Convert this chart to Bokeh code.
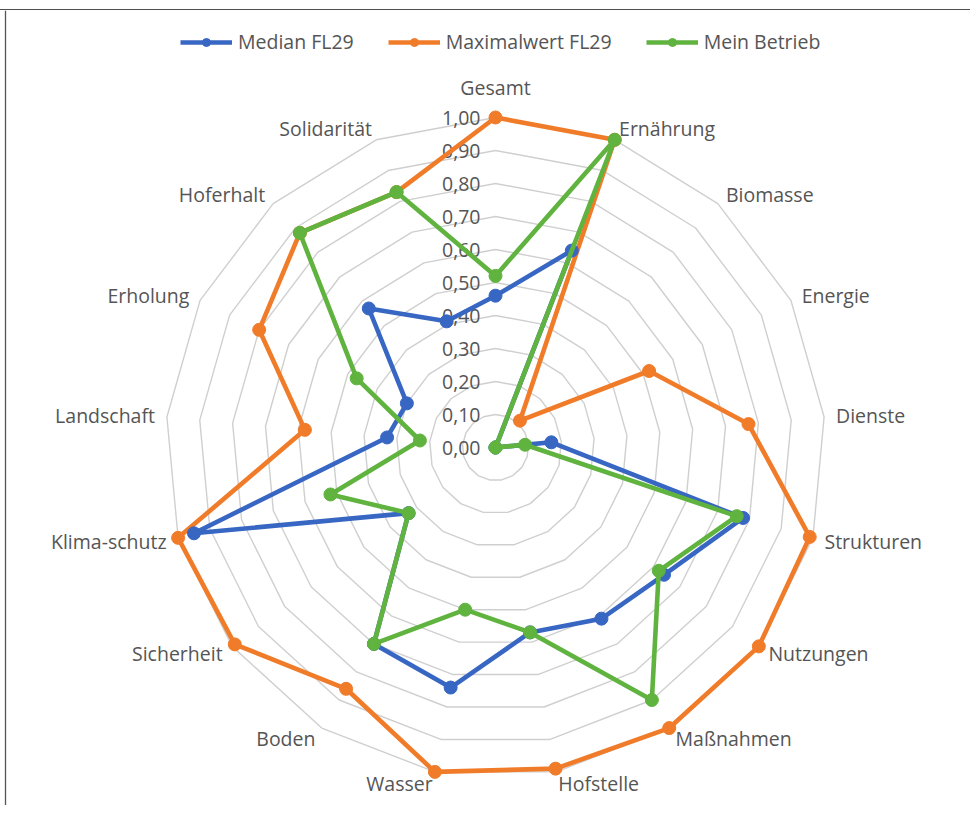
import math
from bokeh.plotting import figure
from bokeh.models import Range1d, Legend, LegendItem, Span
from bokeh.core.properties import value
from bokeh.embed import file_html
from bokeh.resources import INLINE

# ---- data ----
categories = ["Gesamt", "Ernährung", "Biomasse", "Energie", "Dienste", "Strukturen",
              "Nutzungen", "Maßnahmen", "Hofstelle", "Wasser", "Boden", "Sicherheit",
              "Klima-schutz", "Landschaft", "Erholung", "Hoferhalt", "Solidarität"]
median_fl29 = [0.46, 0.64, 0.00, 0.00, 0.17, 0.78, 0.64, 0.61, 0.57, 0.74, 0.70, 0.33,
               0.95, 0.33, 0.30, 0.57, 0.41]
max_fl29 = [1.00, 1.00, 0.11, 0.52, 0.77, 0.99, 1.00, 1.00, 0.99, 1.00, 0.86, 0.99,
            1.00, 0.58, 0.80, 0.88, 0.83]
mein_betrieb = [0.52, 1.00, 0.00, 0.00, 0.09, 0.76, 0.62, 0.90, 0.57, 0.50, 0.70, 0.33,
                0.52, 0.23, 0.47, 0.88, 0.83]
tick_values = [0.0, 0.1, 0.2, 0.3, 0.4, 0.5, 0.6, 0.7, 0.8, 0.9, 1.0]
tick_labels = ["0,00", "0,10", "0,20", "0,30", "0,40", "0,50", "0,60", "0,70", "0,80", "0,90", "1,00"]
series_names = ["Median FL29", "Maximalwert FL29", "Mein Betrieb"]

# ---- layout ----
W, H = 970, 796
S = 330.0            # px per unit
CX, CY = 495, 437    # center in px from top-left of the figure
FONT = "Open Sans"
TXT = "#555555"
FS = "19.5px"

n = len(categories)
ang = [math.pi / 2 - 2 * math.pi * i / n for i in range(n)]
ux = [math.cos(a) for a in ang]
uy = [math.sin(a) for a in ang]

x0, x1 = -CX / S, (W - CX) / S
y0, y1 = (CY - H) / S, CY / S
p = figure(width=W, height=H, output_backend="svg", toolbar_location=None,
           x_axis_type=None, y_axis_type=None, min_border=0,
           x_range=Range1d(x0, x1), y_range=Range1d(y0, y1))
p.outline_line_color = None
p.background_fill_color = "white"
# frame line on top of the chart area (Excel chart border)
p.styles = {"margin-top": "9px", "border-top": "1.5px solid #4f4f4f"}

# left frame line
p.add_layout(Span(location=-(CX - 5) / S, dimension="height", line_color="#555555",
                  line_width=1.3))

# grid polygons
for t in tick_values[1:]:
    xs = [t * ux[i] for i in range(n)] + [t * ux[0]]
    ys = [t * uy[i] for i in range(n)] + [t * uy[0]]
    p.line(xs, ys, line_color="#cfcfcf", line_width=1.4)

# tick labels
p.text(x=[0] * len(tick_values), y=tick_values, text=tick_labels, x_offset=-15,
       text_align="right", text_baseline="middle", text_color=TXT,
       text_font=value(FONT), text_font_size=FS)

# category labels
gap = 12 / S
groups = {"left": ([], [], []), "right": ([], [], []), "center": ([], [], [])}
for i, c in enumerate(categories):
    if ux[i] > 0.05:
        g = "left"; r = 1 + gap
    elif ux[i] < -0.05:
        g = "right"; r = 1 + gap
    else:
        g = "center"; r = 1 + 17 / S
    groups[g][0].append(r * ux[i]); groups[g][1].append(r * uy[i]); groups[g][2].append(c)
for align, (gx, gy, gt) in groups.items():
    if not gt:
        continue
    p.text(x=gx, y=gy, text=gt, text_align=align,
           text_baseline="bottom" if align == "center" else "middle",
           text_color=TXT, text_font=value(FONT), text_font_size=FS)

# series
colors = {"Median FL29": "#3766c3", "Maximalwert FL29": "#f07c2a", "Mein Betrieb": "#5fb33e"}
data = {"Median FL29": median_fl29, "Maximalwert FL29": max_fl29, "Mein Betrieb": mein_betrieb}
renderers = {}
for name in ["Maximalwert FL29", "Median FL29", "Mein Betrieb"]:
    vals = data[name]
    xs = [vals[i] * ux[i] for i in range(n)]
    ys = [vals[i] * uy[i] for i in range(n)]
    col = colors[name]
    lr = p.line(xs + [xs[0]], ys + [ys[0]], line_color=col, line_width=4.6, line_join="round")
    sr = p.scatter(xs, ys, size=13, marker="circle", fill_color=col, line_color=col)
    renderers[name] = [lr, sr]

legend = Legend(items=[LegendItem(label=nm, renderers=renderers[nm]) for nm in series_names],
                orientation="horizontal", location=(180, H - 45),
                glyph_width=52, glyph_height=20, label_standoff=6, spacing=34,
                padding=0, margin=0, border_line_color=None, background_fill_alpha=0,
                label_text_font=FONT, label_text_font_size=FS, label_text_color=TXT)
p.add_layout(legend, "center")

open("out.html", "w").write(file_html(p, INLINE))
